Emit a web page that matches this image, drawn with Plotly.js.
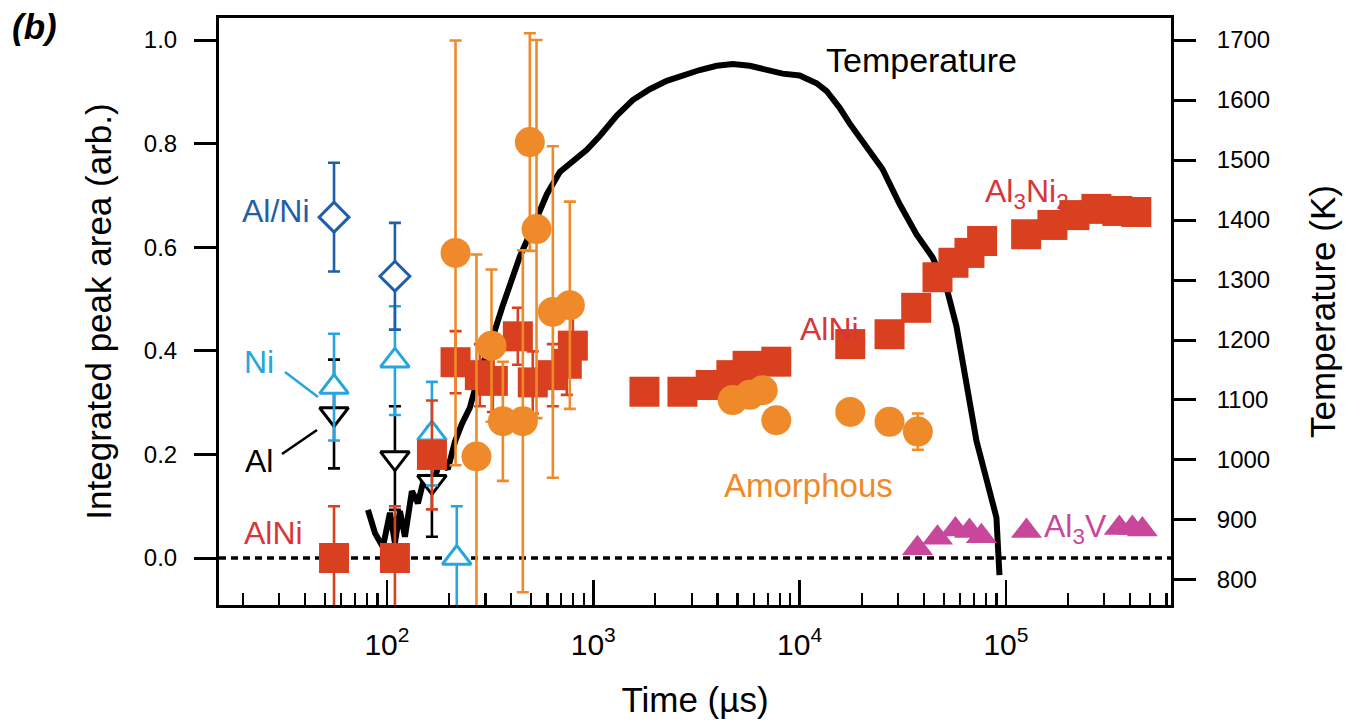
<!DOCTYPE html>
<html>
<head>
<meta charset="utf-8">
<script src="https://cdn.plot.ly/plotly-3.0.1.min.js"></script>
<style>html,body{margin:0;padding:0;background:#fff;}#chart{width:1346px;height:727px;}</style>
</head>
<body>
<div id="chart"></div>
<script>
// ---- Temperature trace (time in µs, temperature in K) ----
const tempTime = [80.9, 87.5, 95.6, 103.4, 109.3, 115.6, 122.2, 132.1, 141.3, 152.7, 165.1, 180.6, 197.4, 213.4, 230.7, 252.2, 282, 315.4, 364.7, 402.9, 440.5, 509.4, 595.6, 688.5, 796, 930, 1075, 1300, 1553, 1878, 2270, 2713, 3281, 3966, 4743, 5733, 6926, 8277, 10000, 12090, 13520, 15630, 17470, 21100, 25210, 30480, 36870, 44060, 51520, 57560, 64380, 71960, 80480, 89940, 93040];
const tempK = [917, 878, 855, 912, 862, 915, 872, 948, 928, 975, 952, 1000, 985, 1030, 1060, 1087, 1148, 1190, 1258, 1300, 1339, 1388, 1443, 1480, 1499, 1517, 1540, 1574, 1600, 1618, 1632, 1641, 1650, 1657, 1660, 1657, 1650, 1644, 1641, 1628, 1615, 1587, 1561, 1523, 1485, 1427, 1376, 1338, 1287, 1223, 1127, 1032, 968, 904, 808];

// ---- Al/Ni (open diamonds) ----
const alniMixTime = [55.4, 109.3];
const alniMixVal = [0.658, 0.544];
const alniMixErr = [0.105, 0.103];

// ---- Ni (open up-triangles) ----
const niTime = [55.4, 109.3, 165.2, 218];
const niVal = [0.33, 0.381, 0.24, 0.0];
const niErr = [0.103, 0.105, 0.10, 0.10];

// ---- Al (open down-triangles) ----
const alTime = [55.4, 109.3, 165.2];
const alVal = [0.278, 0.193, 0.147];
const alErr = [0.105, 0.10, 0.106];

// ---- AlNi / Al3Ni2 (red squares) ----
const alniTime = [55.4, 109.3, 165.2, 215, 282, 326, 431, 509, 637, 744, 796, 1770, 2704, 3707, 4670, 5597, 7710, 17600, 27280, 36730, 46590, 55690, 66560, 76660, 125300, 168000, 214700, 274400, 346700, 428500];
const alniVal = [0, 0, 0.199, 0.378, 0.353, 0.342, 0.428, 0.339, 0.353, 0.375, 0.41, 0.321, 0.321, 0.334, 0.353, 0.371, 0.379, 0.413, 0.432, 0.483, 0.542, 0.57, 0.589, 0.612, 0.625, 0.643, 0.662, 0.674, 0.670, 0.668];
const alniErr = [0.1, 0.1, 0.105, 0.06, 0.06, 0.06, 0.055, 0.06, 0.06, 0.06, 0.06, 0, 0, 0, 0, 0, 0, 0, 0, 0, 0, 0, 0, 0, 0, 0, 0, 0, 0, 0];

// ---- Amorphous (orange circles) ----
const amorTime = [215, 271.6, 321.2, 364.6, 455.6, 492.6, 530.8, 636.8, 769.8, 4738, 5728, 6620, 7710, 17600, 27280, 37410];
const amorVal = [0.589, 0.196, 0.41, 0.264, 0.264, 0.803, 0.635, 0.475, 0.488, 0.305, 0.315, 0.324, 0.266, 0.282, 0.263, 0.244];
const amorErr = [0.41, 0.39, 0.147, 0.115, 0.33, 0.21, 0.365, 0.32, 0.2, 0, 0, 0, 0, 0, 0, 0.035];

// ---- Al3V (magenta triangles) ----
const al3vTime = [37260, 46590, 56930, 66560, 76030, 125700, 354400, 409900, 458200];
const al3vVal = [0.019, 0.039, 0.055, 0.052, 0.042, 0.052, 0.058, 0.058, 0.055];

// ---- axis tick values ----
const tempTicks = [800, 900, 1000, 1100, 1200, 1300, 1400, 1500, 1600, 1700];
const areaTicks = [0.0, 0.2, 0.4, 0.6, 0.8, 1.0];

const FONT = 'Liberation Sans, Arial, Helvetica, sans-serif';
const RED = '#d9401f', ORANGE = '#ef8a2a', DBLUE = '#1f5ea8', CYAN = '#27a6de', MAG = '#c9479b';
const TXTRED = '#d8363a';

function eb(arr, color) {
  return {type: 'data', array: arr, visible: true, color: color, thickness: 2.6, width: 6};
}

const traces = [
  {x: tempTime, y: tempK, yaxis: 'y', mode: 'lines', name: 'Temperature',
   line: {color: 'black', width: 6}},
  {x: alTime, y: alVal, yaxis: 'y2', mode: 'markers', name: 'Al',
   error_y: eb(alErr, 'black'),
   marker: {symbol: 'triangle-down', size: 25, color: 'white', line: {color: 'black', width: 3}}},
  {x: niTime, y: niVal, yaxis: 'y2', mode: 'markers', name: 'Ni',
   error_y: eb(niErr, CYAN),
   marker: {symbol: 'triangle-up', size: 25, color: 'white', line: {color: CYAN, width: 3}}},
  {x: alniTime, y: alniVal, yaxis: 'y2', mode: 'markers', name: 'AlNi / Al3Ni2',
   error_y: eb(alniErr, RED),
   marker: {symbol: 'square', size: 30, color: RED, line: {width: 0}}},
  {x: amorTime, y: amorVal, yaxis: 'y2', mode: 'markers', name: 'Amorphous',
   error_y: eb(amorErr, ORANGE),
   marker: {symbol: 'circle', size: 30, color: ORANGE, line: {width: 0}}},
  {x: alniMixTime, y: alniMixVal, yaxis: 'y2', mode: 'markers', name: 'Al/Ni',
   error_y: eb(alniMixErr, DBLUE),
   marker: {symbol: 'diamond', size: 23, color: 'white', line: {color: DBLUE, width: 3}}},
  {x: al3vTime, y: al3vVal, yaxis: 'y2', mode: 'markers', name: 'Al3V',
   marker: {symbol: 'triangle-up', size: 27, color: MAG, line: {width: 0}}}
];

// pixel -> paper helpers for annotation placement
const PL = 219, PW = 952, PB = 605, PH = 587;
const px = v => (v - PL) / PW;
const py = v => (PB - v) / PH;

function ann(text, x, y, color, size) {
  return {text: text, xref: 'paper', yref: 'paper', x: px(x), y: py(y),
    xanchor: 'center', yanchor: 'middle', showarrow: false,
    font: {family: FONT, size: size, color: color}};
}

const layout = {
  width: 1346, height: 727,
  margin: {l: 219, r: 175, t: 18, b: 122, pad: 0},
  paper_bgcolor: 'white', plot_bgcolor: 'white',
  showlegend: false,
  font: {family: FONT, color: 'black'},
  xaxis: {
    type: 'log', range: [1.186, 5.80],
    dtick: 1, exponentformat: 'power',
    showgrid: false, zeroline: false,
    showline: true, linecolor: 'black', linewidth: 3, mirror: true,
    ticks: 'inside', ticklen: 25, tickwidth: 2.6, tickcolor: 'black',
    minor: {dtick: 'D1', ticks: 'inside', ticklen: 12, tickwidth: 2.2, tickcolor: 'black', showgrid: false},
    tickfont: {family: FONT, size: 24, color: 'black'},
    ticklabelstandoff: 12,
    title: {text: 'Time (µs)', font: {family: FONT, size: 35, color: 'black'}, standoff: 28}
  },
  yaxis: {
    side: 'right', range: [758.3, 1736.7],
    tickvals: tempTicks,
    showgrid: false, zeroline: false,
    showline: true, linecolor: 'black', linewidth: 3,
    ticks: 'outside', ticklen: 22, tickwidth: 3, tickcolor: 'black',
    tickfont: {family: FONT, size: 24, color: 'black'},
    ticklabelstandoff: 16,
    title: {text: 'Temperature (K)', font: {family: FONT, size: 35, color: 'black'}, standoff: 42}
  },
  yaxis2: {
    overlaying: 'y', side: 'left', range: [-0.0907, 1.0425],
    tickvals: areaTicks, tickformat: '.1f',
    showgrid: false, zeroline: false,
    showline: true, linecolor: 'black', linewidth: 3,
    ticks: 'outside', ticklen: 22, tickwidth: 3, tickcolor: 'black',
    tickfont: {family: FONT, size: 24, color: 'black'},
    ticklabelstandoff: 12,
    title: {text: 'Integrated peak area (arb.)', font: {family: FONT, size: 35, color: 'black'}, standoff: 22}
  },
  shapes: [
    {type: 'line', layer: 'below', xref: 'paper', x0: 0, x1: 1, yref: 'y2', y0: 0, y1: 0,
     line: {color: 'black', width: 3.5, dash: '7px,5px'}},
    {type: 'line', xref: 'paper', yref: 'paper', x0: px(285), y0: py(372), x1: px(318), y1: py(397),
     line: {color: CYAN, width: 2.6}},
    {type: 'line', xref: 'paper', yref: 'paper', x0: px(282), y0: py(454), x1: px(317), y1: py(430),
     line: {color: 'black', width: 2.6}}
  ],
  annotations: [
    ann('<b><i>(b)</i></b>', 34, 26, 'black', 35),
    ann('Temperature', 921, 60, 'black', 34),
    ann('Al/Ni', 276, 211, DBLUE, 32),
    ann('Ni', 259, 362, CYAN, 32),
    ann('Al', 259, 461, 'black', 32),
    ann('AlNi', 273, 533, TXTRED, 32),
    ann('AlNi', 829, 329, TXTRED, 32),
    ann('Al<sub>3</sub>Ni<sub>2</sub>', 1027, 193, TXTRED, 32),
    ann('Amorphous', 808, 485, ORANGE, 33),
    ann('Al<sub>3</sub>V', 1075, 528, MAG, 32)
  ]
};

Plotly.newPlot('chart', traces, layout, {staticPlot: true, displayModeBar: false});
</script>
</body>
</html>
